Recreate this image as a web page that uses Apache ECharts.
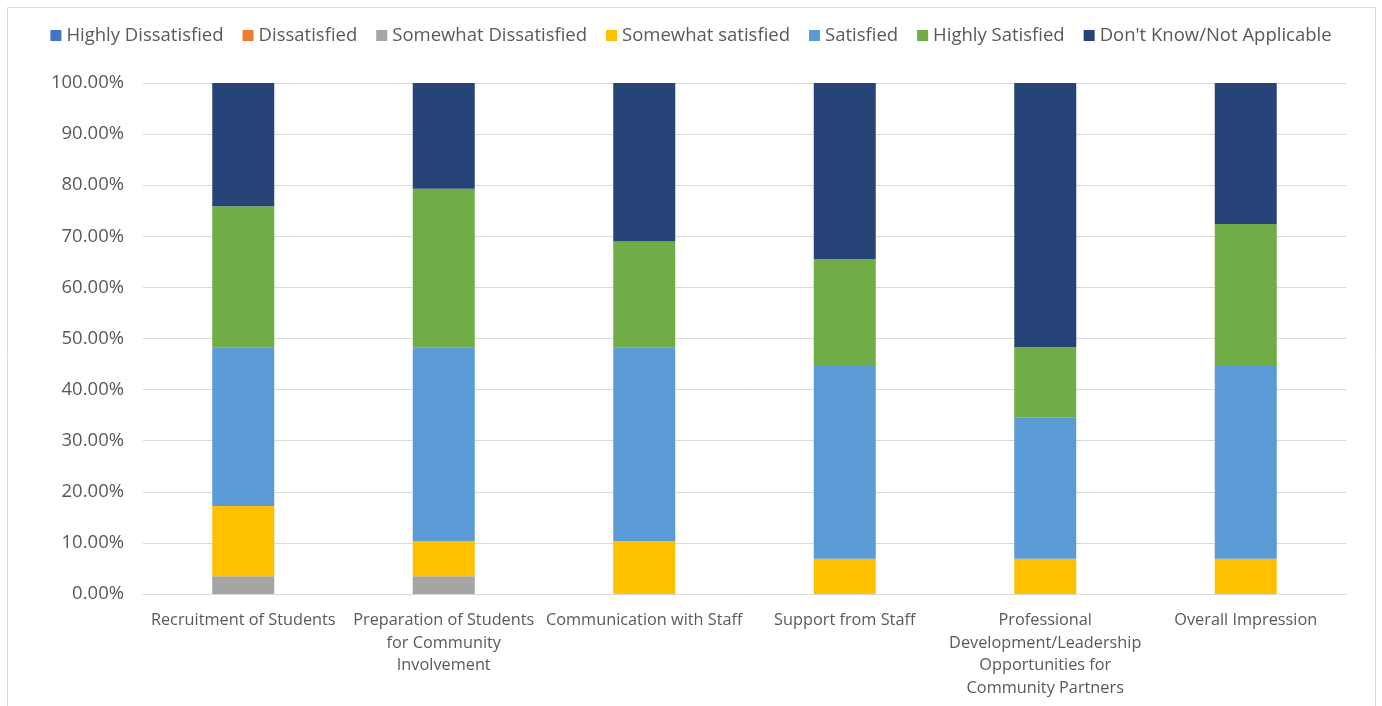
<!DOCTYPE html>
<html>
<head>
<meta charset="utf-8">
<script src="https://cdn.jsdelivr.net/npm/echarts@6/dist/echarts.min.js"></script>
<style>
  html, body { margin: 0; padding: 0; background: #fff; }
  #chart { width: 1382px; height: 706px; }
</style>
</head>
<body>
<div id="chart"></div>
<script>
// categories (line breaks as in the picture)
const categories = [
    'Recruitment of Students',
    'Preparation of Students\nfor Community\nInvolvement',
    'Communication with Staff',
    'Support from Staff',
    'Professional\nDevelopment/Leadership\nOpportunities for\nCommunity Partners',
    'Overall Impression'
]
const seriesNames = ['Highly Dissatisfied', 'Dissatisfied', 'Somewhat Dissatisfied', 'Somewhat satisfied', 'Satisfied', 'Highly Satisfied', "Don't Know/Not Applicable"]
const colors = ['#4472c4', '#ed7d31', '#a5a5a5', '#ffc000', '#5b9bd5', '#70ad47', '#264478']

// shares in percent
const highlyDissatisfied = [0, 0, 0, 0, 0, 0]
const dissatisfied = [0, 0, 0, 0, 0, 0]
const somewhatDissatisfied = [3.45, 3.45, 0, 0, 0, 0]
const somewhatSatisfied = [13.79, 6.90, 10.34, 6.90, 6.90, 6.90]
const satisfied = [31.03, 37.93, 37.93, 37.93, 27.59, 37.93]
const highlySatisfied = [27.59, 31.03, 20.69, 20.69, 13.79, 27.59]
const dontKnow = [24.14, 20.69, 31.03, 34.48, 51.72, 27.59]

const allValues = [highlyDissatisfied, dissatisfied, somewhatDissatisfied, somewhatSatisfied, satisfied, highlySatisfied, dontKnow]

const font = "'Open Sans', 'Noto Sans', sans-serif"
const textColor = '#595959'

const myChart = echarts.init(document.querySelector('#chart'))
const option = {
    animation: false,
    color: colors,
    textStyle: { fontFamily: font },
    graphic: [{
        type: 'rect',
        shape: { x: 7.5, y: 7.5, width: 1368, height: 720 },
        style: { fill: 'none', stroke: '#d9d9d9', lineWidth: 1 },
        silent: true
    }],
    legend: {
        top: 21,
        left: 'center',
        itemWidth: 11,
        itemHeight: 11,
        itemGap: 19,
        icon: 'rect',
        textStyle: { fontSize: 18.5, color: textColor, fontFamily: font },
        data: seriesNames
    },
    grid: {
        left: 143,
        right: 36,
        top: 83,
        bottom: 112,
        containLabel: false
    },
    xAxis: {
        type: 'category',
        data: categories,
        axisLine: { lineStyle: { color: '#d9d9d9', width: 1 } },
        axisTick: { show: false },
        axisLabel: {
            color: textColor,
            fontSize: 16.3,
            lineHeight: 22.7,
            margin: 15,
            interval: 0,
            fontFamily: font
        }
    },
    yAxis: {
        type: 'value',
        min: 0,
        max: 100,
        interval: 10,
        axisLine: { show: false },
        axisTick: { show: false },
        splitLine: { lineStyle: { color: '#d9d9d9', width: 1 } },
        axisLabel: {
            color: textColor,
            fontSize: 18.5,
            margin: 19,
            fontFamily: font,
            formatter: v => v.toFixed(2) + '%'
        }
    },
    series: seriesNames.map((name, i) => ({
        name: name,
        type: 'bar',
        stack: 'total',
        barWidth: 62,
        data: allValues[i]
    }))
}
myChart.setOption(option)
window.addEventListener('resize', function () {
    myChart.resize()
})
</script>
</body>
</html>
